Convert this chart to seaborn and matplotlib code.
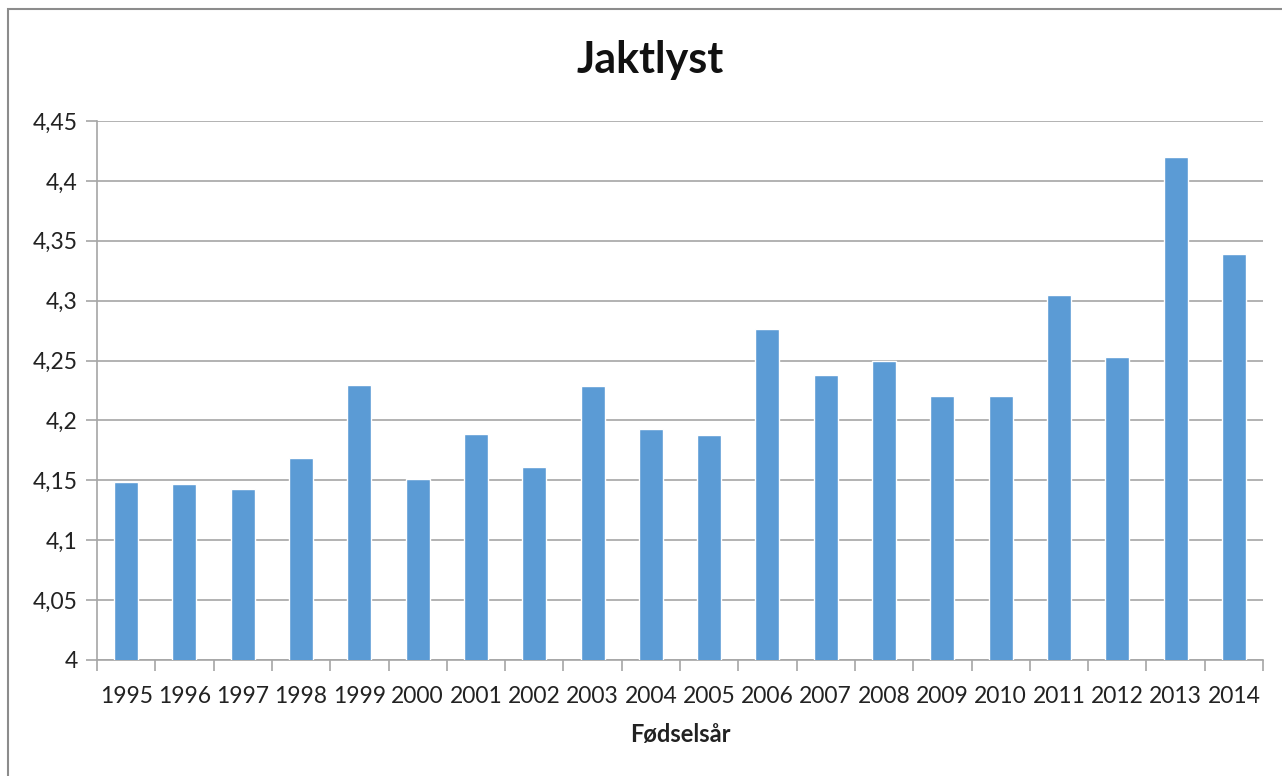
import pandas as pd
import seaborn as sns
import matplotlib.pyplot as plt
from matplotlib.patches import Rectangle
from matplotlib.ticker import FuncFormatter, MultipleLocator

years = ['1995', '1996', '1997', '1998', '1999', '2000', '2001', '2002', '2003', '2004',
         '2005', '2006', '2007', '2008', '2009', '2010', '2011', '2012', '2013', '2014']
jaktlyst = [4.149, 4.147, 4.143, 4.169, 4.230, 4.151, 4.189, 4.161, 4.229, 4.193,
            4.188, 4.276, 4.238, 4.250, 4.220, 4.220, 4.305, 4.253, 4.420, 4.339]

BAR_COLOR = '#5b9bd5'
GRID_COLOR = '#a6a6a6'

sns.set_theme(style='white')
plt.rcParams['font.family'] = ['Lato', 'DejaVu Sans']

df = pd.DataFrame({'year': years, 'value': jaktlyst})

fig = plt.figure(figsize=(12.82, 7.76), dpi=100)
ax = fig.add_axes([97 / 1282, 1 - 660 / 776, (1263 - 97) / 1282, (660 - 121) / 776])

sns.barplot(data=df, x='year', y='value', color=BAR_COLOR, saturation=1,
            width=0.41, ax=ax, zorder=3)

ax.set_ylim(4, 4.45)
ax.set_xlim(-0.5, len(years) - 0.5)
ax.yaxis.set_major_locator(MultipleLocator(0.05))
ax.yaxis.set_major_formatter(FuncFormatter(lambda v, p: f'{v:.2f}'.rstrip('0').rstrip('.').replace('.', ',')))
ax.grid(axis='y', color=GRID_COLOR, linewidth=1.2, zorder=0)
ax.set_axisbelow(True)

for s in ['top', 'right']:
    ax.spines[s].set_visible(False)
for s in ['left', 'bottom']:
    ax.spines[s].set_color(GRID_COLOR)
    ax.spines[s].set_linewidth(1.2)

# category ticks sit between bars, like the spreadsheet chart
ax.set_xticks([i - 0.5 for i in range(len(years) + 1)], minor=True)
ax.tick_params(axis='x', which='minor', bottom=True, length=8, color=GRID_COLOR, width=1.2, direction='out')
ax.tick_params(axis='x', which='major', bottom=False, length=0, labelsize=16.5, pad=19, labelcolor='#222222')
ax.tick_params(axis='y', which='major', left=True, length=8, color=GRID_COLOR, width=1.2, direction='out',
               labelsize=16.5, pad=6, labelcolor='#222222')

ax.set_xlabel('Fødselsår', fontsize=17, fontweight='bold', labelpad=11, color='#222222')
ax.set_ylabel('')

fig.text(650 / 1282, 1 - 60 / 776, 'Jaktlyst', ha='center', va='center',
         fontsize=31, fontweight='bold', color='#111111')

fig.patches.append(Rectangle((8 / 1282, -0.1), 1.2, 1.1 - 9 / 776, transform=fig.transFigure,
                             fill=False, edgecolor='#8c8c8c', linewidth=1.5))

fig.savefig('out.png', dpi=100, facecolor='white')
